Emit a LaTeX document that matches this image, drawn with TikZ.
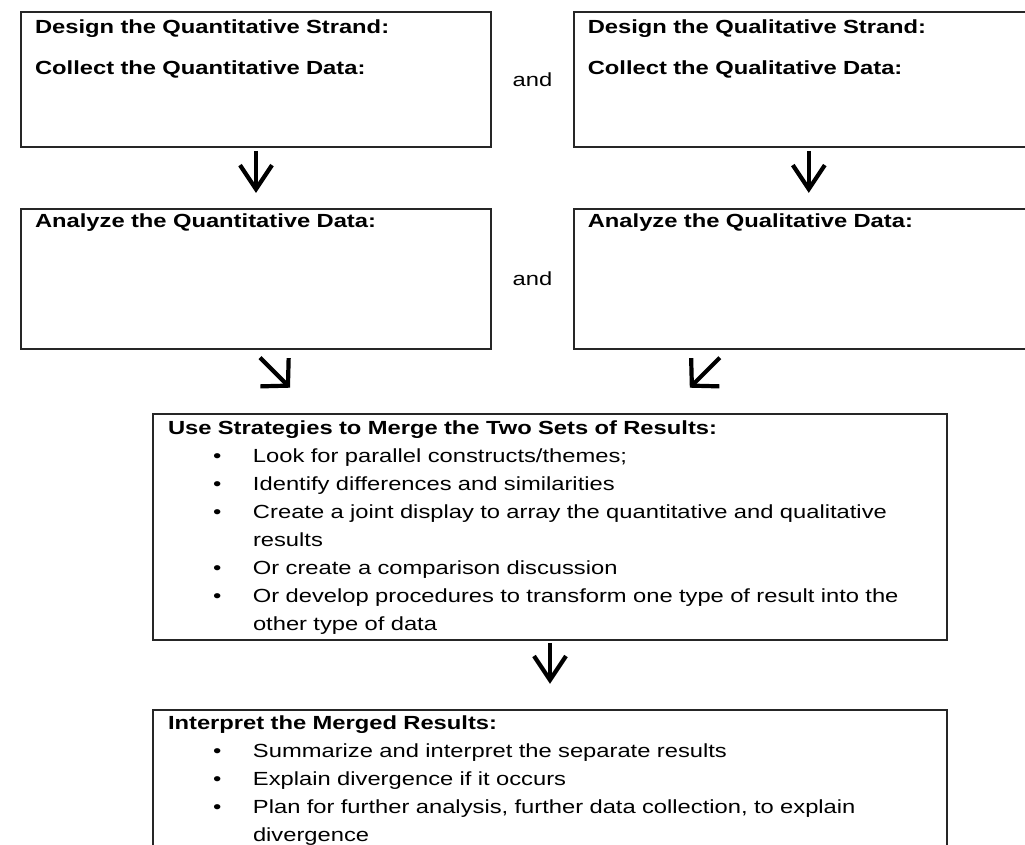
\documentclass[tikz,border=0pt]{standalone}
\usepackage{fontspec}
\setmainfont{Liberation Sans}[FakeStretch=1.25]
\usetikzlibrary{positioning,calc,arrows.meta}
\newcommand{\bpoint}[1]{\hspace*{45pt}\makebox[40pt][l]{\textbullet}#1}
\newcommand{\bcont}[1]{\hspace*{85pt}#1}

\begin{document}
\begin{tikzpicture}[x=1pt, y=-1pt, font=\fontsize{19}{28}\selectfont,
  box/.style={draw=black!85, line width=1.8pt, inner xsep=14pt, inner ysep=0pt, align=left, text width=442pt},
  arr/.style={line width=4.2pt, -{Straight Barb[length=24pt,width=32pt]}},
  diagarr/.style={line width=4.2pt, -{Straight Barb[length=19pt,width=40pt]}}]
\useasboundingbox (0,0) rectangle (1025,845);
\clip (0,0) rectangle (1025,845);

\node (quan) [box, text height=21.5pt, text depth=113.5pt] at (256,79.5) {\textbf{Design the Quantitative Strand:}\\[13pt]\textbf{Collect the Quantitative Data:}};
\node (qual) [box, text height=21.5pt, text depth=113.5pt, right=81pt of quan] {\textbf{Design the Qualitative Strand:}\\[13pt]\textbf{Collect the Qualitative Data:}};
\node (and1) at ($(quan.east)!0.5!(qual.west)$) {and};
\node (quananal) [box, text height=18.5pt, text depth=121.5pt, below=60pt of quan] {\textbf{Analyze the Quantitative Data:}};
\node (qualanal) [box, text height=18.5pt, text depth=121.5pt, below=60pt of qual] {\textbf{Analyze the Qualitative Data:}};
\node (and2) at ($(quananal.east)!0.5!(qualanal.west)$) {and};
\node (merge) [box, inner xsep=15pt, text width=764pt, text height=20.5pt, text depth=205.5pt, anchor=north] at (550,413) {\textbf{Use Strategies to Merge the Two Sets of Results:}\\
\bpoint{Look for parallel constructs/themes;}\\
\bpoint{Identify differences and similarities}\\
\bpoint{Create a joint display to array the quantitative and qualitative}\\
\bcont{results}\\
\bpoint{Or create a comparison discussion}\\
\bpoint{Or develop procedures to transform one type of result into the}\\
\bcont{other type of data}};
\node (interp) [box, inner xsep=15pt, text width=764pt, text height=19.5pt, text depth=150pt, below=68pt of merge] {\textbf{Interpret the Merged Results:}\\
\bpoint{Summarize and interpret the separate results}\\
\bpoint{Explain divergence if it occurs}\\
\bpoint{Plan for further analysis, further data collection, to explain}\\
\bcont{divergence}};

\draw[arr, shorten <=3pt, shorten >=15pt] (quan) -- (quananal);
\draw[arr, shorten <=3pt, shorten >=15pt] (qual) -- (qualanal);
\draw[diagarr] ([shift={(4,8)}]quananal.south) -- +(30,30);
\draw[diagarr] ([shift={(-89,8)}]qualanal.south) -- +(-30,30);
\draw[arr, shorten <=2pt, shorten >=25pt] (merge) -- (interp);

\end{tikzpicture}
\end{document}
